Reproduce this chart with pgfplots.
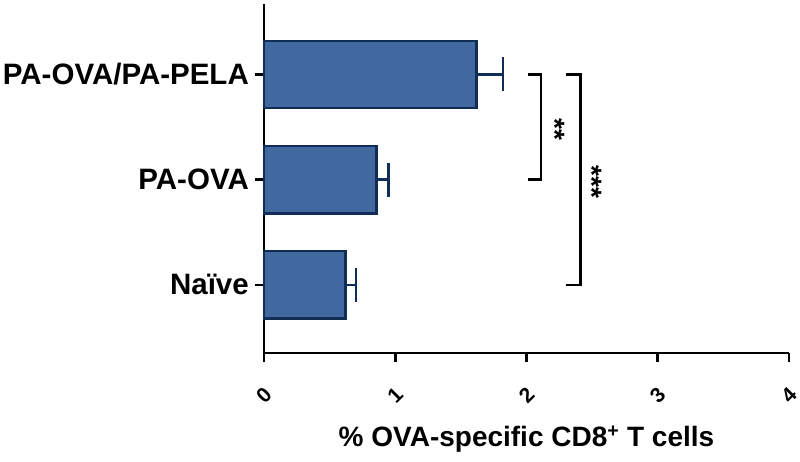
\documentclass[border=0pt]{standalone}
\usepackage{pgfplots}
\pgfplotsset{compat=1.18}
\usepackage{fontspec}
\setmainfont{Liberation Sans}
\definecolor{barfill}{RGB}{65,105,160}
\definecolor{baredge}{RGB}{15,45,85}
\begin{document}
\begin{tikzpicture}
\begin{axis}[
  name=ax,
  scale only axis,
  width=525pt, height=349pt,
  xmin=0, xmax=4,
  ymin=-0.648, ymax=2.67,
  axis x line*=bottom,
  axis y line*=left,
  axis line style={line width=2.6pt, black},
  xtick={0,1,2,3,4},
  ytick={0,1,2},
  yticklabels={Naïve,PA-OVA,PA-OVA/PA-PELA},
  tick align=outside,
  major tick length=9pt,
  tick style={line width=2.6pt, black},
  /pgf/number format/assume math mode=true,
  xticklabel style={font=\fontsize{21}{25}\selectfont\bfseries, anchor=center, inner sep=0pt, yshift=-33pt, rotate=45},
  yticklabel style={font=\fontsize{29.5}{34}\selectfont\bfseries, inner sep=0pt, xshift=-6pt},
  xlabel={\% OVA-specific CD8\textsuperscript{+} T cells},
  xlabel style={font=\fontsize{28}{33}\selectfont\bfseries, at={(axis description cs:0.5,0)}, anchor=center, inner sep=0pt, yshift=-86pt},
  clip=false,
]
\addplot[xbar, bar width=0.64, fill=barfill, draw=baredge, line width=2.6pt,
  error bars/.cd, x dir=plus, x explicit,
  error bar style={line width=2.6pt, baredge},
  error mark options={rotate=90, line width=2.6pt, baredge, mark size=17pt}]
  coordinates {
  (0.62,0) +- (0.08,0)
  (0.855,1) +- (0.095,0)
  (1.62,2) +- (0.20,0)
};
\addplot[black, line width=2.6pt, sharp plot, mark=none]
  coordinates {(2.01,2) (2.11,2) (2.11,1) (2.01,1)};
\addplot[black, line width=2.6pt, sharp plot, mark=none]
  coordinates {(2.30,2) (2.41,2) (2.41,0) (2.30,0)};
\node[rotate=-90, font=\fontsize{28}{28}\selectfont\bfseries] at (axis cs:2.22,1.48) {**};
\node[rotate=-90, font=\fontsize{28}{28}\selectfont\bfseries] at (axis cs:2.50,0.98) {***};
\end{axis}
\pgfresetboundingbox
\path[use as bounding box] ([shift={(-264pt,-108pt)}]ax.south west) rectangle ([shift={(11pt,4pt)}]ax.north east);
\end{tikzpicture}
\end{document}
